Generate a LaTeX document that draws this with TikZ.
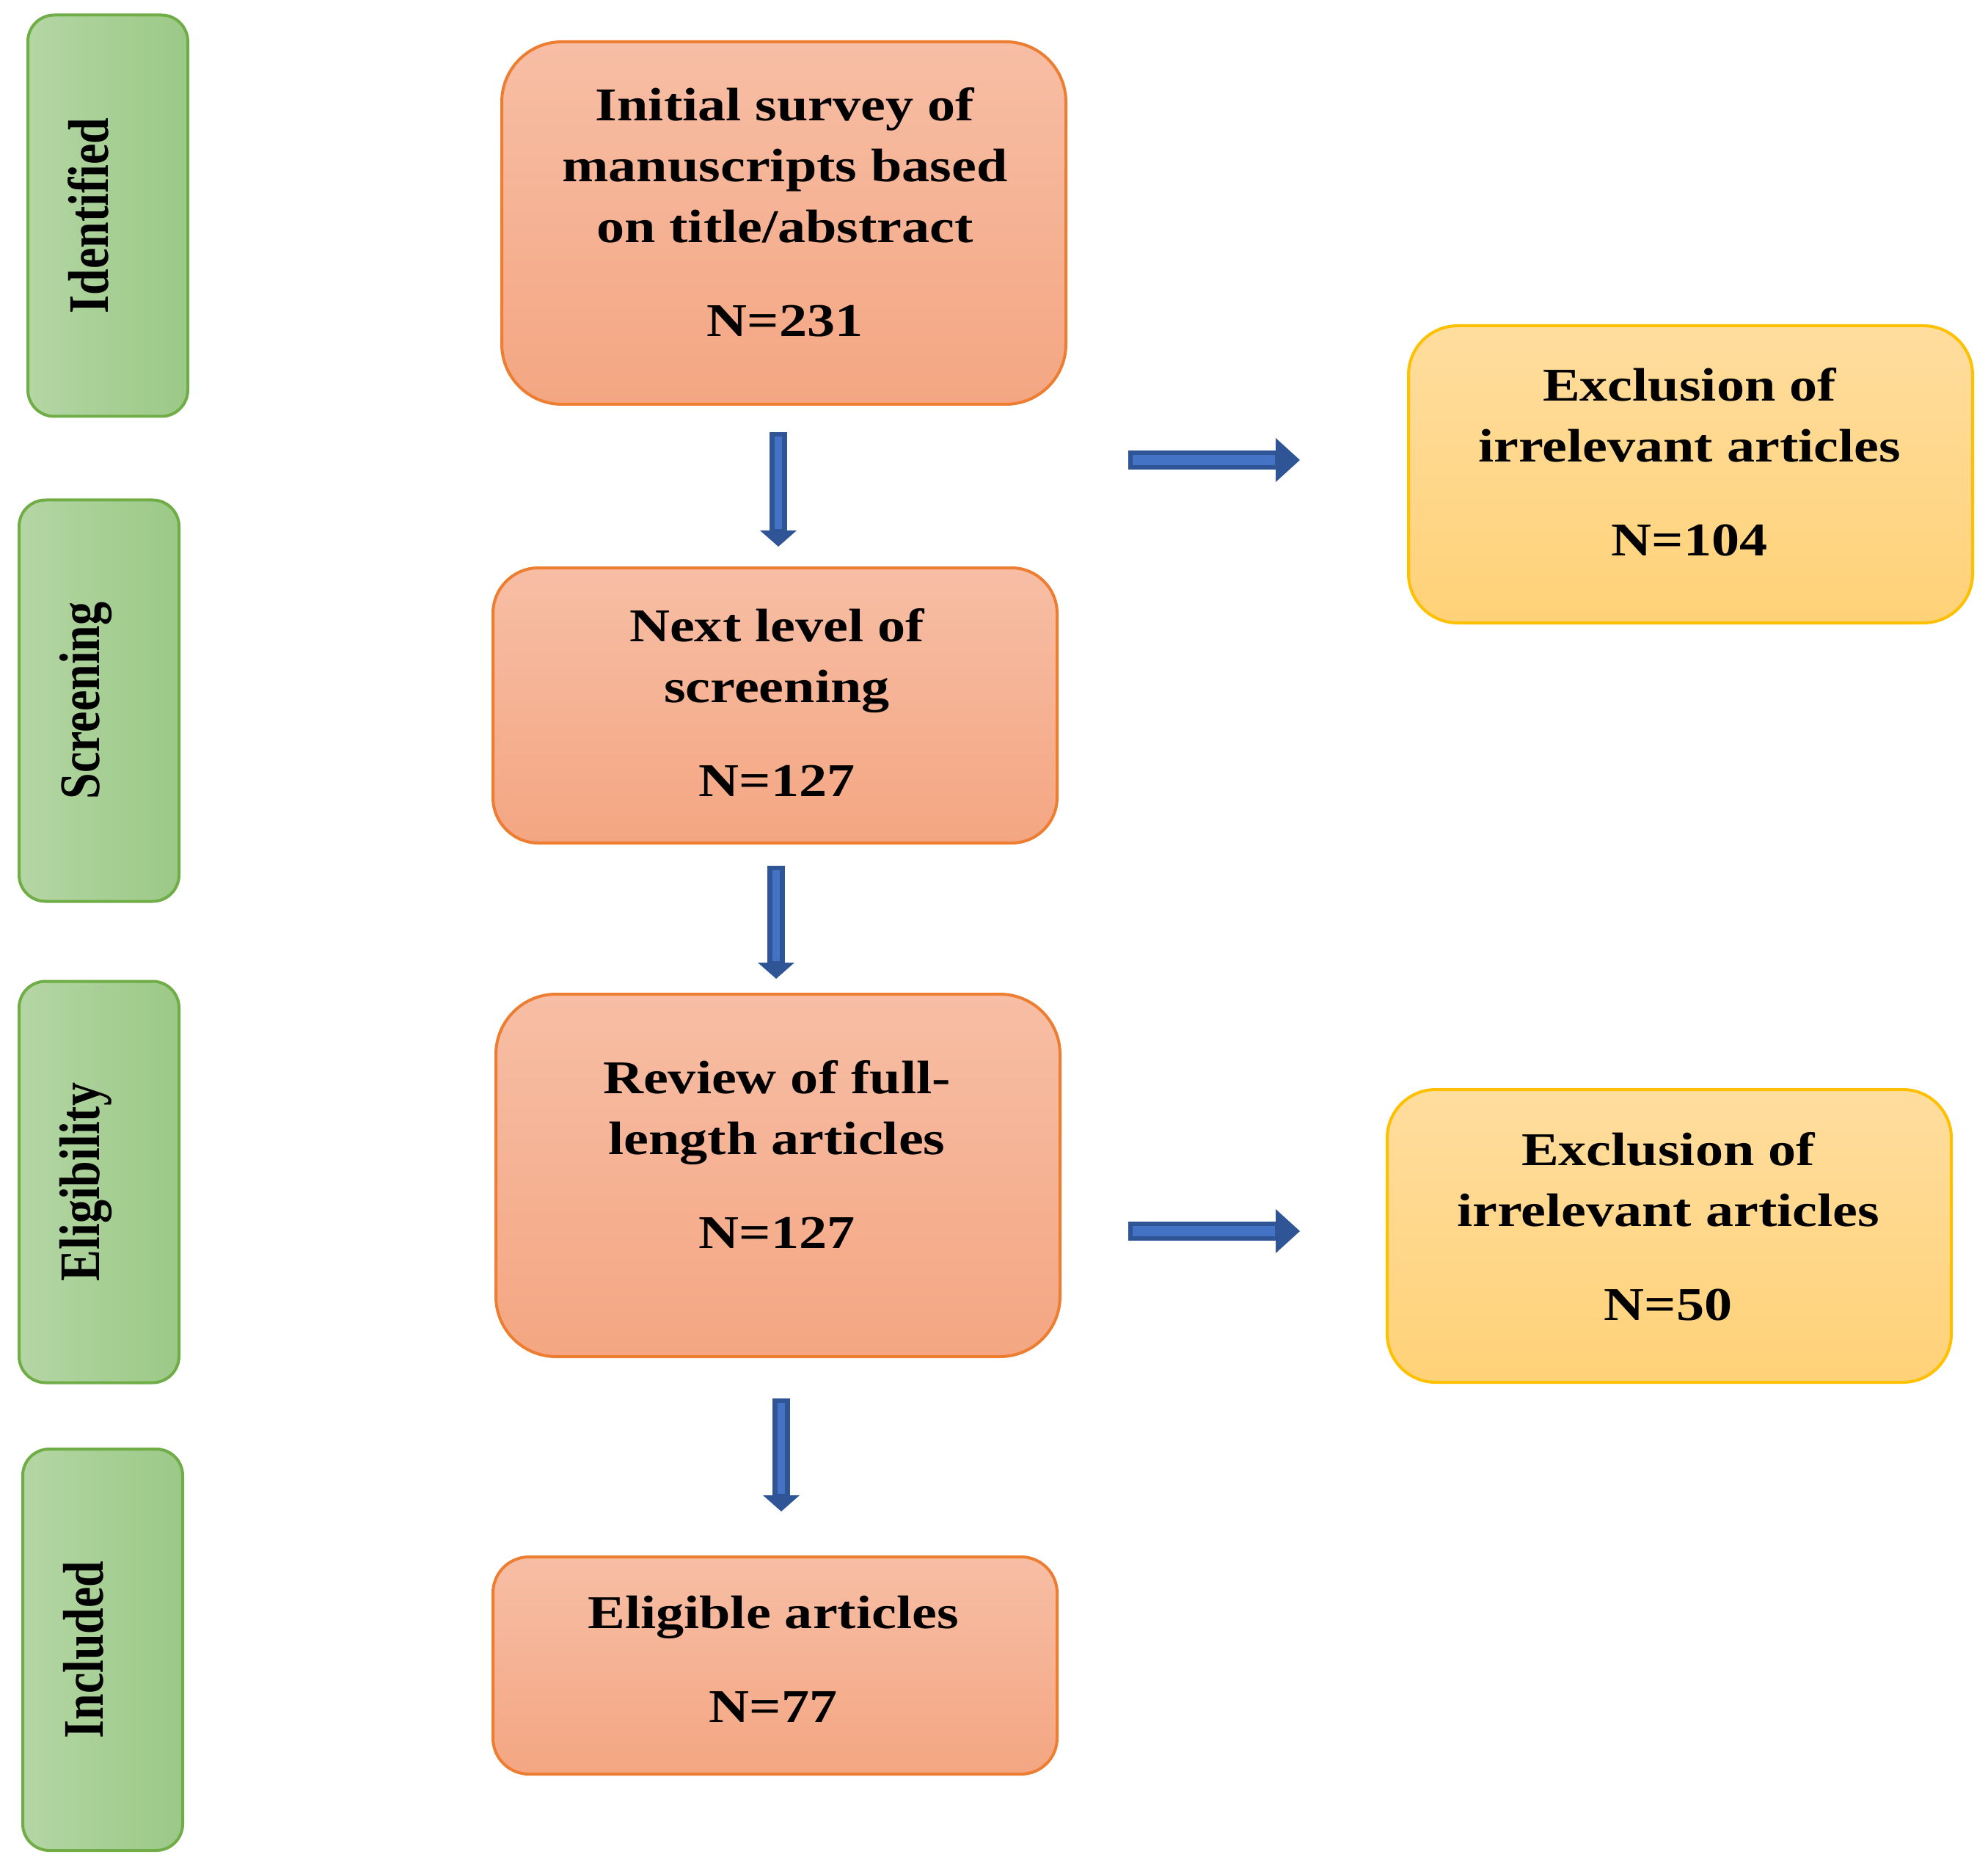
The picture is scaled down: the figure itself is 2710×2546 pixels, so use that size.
\documentclass[tikz,border=0pt]{standalone}
\usepackage{fontspec}
\setmainfont{Liberation Serif}
\newfontfamily\boxfont{Liberation Serif}[FakeStretch=1.19]
\newfontfamily\sidefont{Liberation Serif}
\usetikzlibrary{arrows.meta}
\definecolor{gline}{HTML}{70AD47}
\definecolor{gL}{HTML}{B4D6A4}
\definecolor{gR}{HTML}{9BC987}
\definecolor{oline}{HTML}{ED7D31}
\definecolor{oT}{HTML}{F7BEA5}
\definecolor{oB}{HTML}{F4A682}
\definecolor{yline}{HTML}{FFC000}
\definecolor{yT}{HTML}{FFDD9E}
\definecolor{yB}{HTML}{FFD278}
\definecolor{adark}{HTML}{2F5597}
\definecolor{alight}{HTML}{4472C4}
\newcommand{\tallside}[1]{\scalebox{1}[1.22]{#1}}
\tikzset{
  gbox/.style={rectangle, rounded corners=9pt, draw=gline, line width=1pt,
    left color=gL, right color=gR, minimum width=54.5pt, minimum height=136.75pt, inner sep=0pt},
  obox/.style={rectangle, draw=oline, line width=1pt, top color=oT, bottom color=oB,
    minimum width=192.25pt, inner sep=0pt},
  ybox/.style={rectangle, draw=yline, line width=1pt, top color=yT, bottom color=yB,
    minimum width=192.25pt, inner sep=0pt},
  btext/.style={align=center, inner sep=0pt,
    font={\boxfont\bfseries\fontsize{16pt}{20.75pt}\selectfont}},
  stext/.style={rotate=90, anchor=base, inner sep=0pt,
    font={\sidefont\bfseries\fontsize{16pt}{20pt}\selectfont}},
  darrow/.style={draw=adark, line width=6pt,
    -{Triangle[width=12.5pt,length=5.5pt,line width=0pt]}},
  dinner/.style={draw=alight, line width=2.5pt, shorten <=1.5pt, shorten >=6pt},
  rarrow/.style={draw=adark, line width=6.5pt,
    -{Triangle[width=15pt,length=8.25pt,line width=0pt]}},
  rinner/.style={draw=alight, line width=3.5pt, shorten <=1.5pt, shorten >=8.5pt}
}
\begin{document}
\begin{tikzpicture}[x=0.25pt,y=-0.25pt]
\useasboundingbox[fill=white] (0,0) rectangle (2710,2546);

% side labels
\node[gbox] (g1) at (147,294) {};
\node[gbox] (g2) at (135,955) {};
\node[gbox] (g3) at (135,1611) {};
\node[gbox] (g4) at (140,2248.5) {};
\node[stext] (l1) at (g1.center) {\tallside{Identified}};
\node[stext] (l2) at (g2.center) {\tallside{Screening}};
\node[stext] (l3) at (g3.center) {\tallside{Eligibility}};
\node[stext] (l4) at (g4.center) {\tallside{Included}};

% main boxes
\node[obox, minimum height=123.5pt, rounded corners=20.5pt] (b1) at (1068.5,304) {};
\node[obox, minimum height=93.75pt, rounded corners=15.5pt] (b2) at (1056.5,961.5) {};
\node[obox, minimum height=123.5pt, rounded corners=20.5pt] (b3) at (1060.5,1602) {};
\node[obox, minimum height=74pt, rounded corners=12.25pt] (b4) at (1056.5,2270) {};
\node[ybox, minimum height=101.25pt, rounded corners=16.75pt] (y1) at (2304.5,646.5) {};
\node[ybox, minimum height=99.75pt, rounded corners=16.5pt] (y2) at (2275.5,1684.5) {};

\node[btext] (t1) at (1070,289.5) {Initial survey of\\manuscripts based\\on title/abstract\\[11.25pt]N=231};
\node[btext] (t2) at (1059,957.5) {Next level of\\screening\\[11.25pt]N=127};
\node[btext] (t3) at (1059,1573.5) {Review of full-\\length articles\\[11.25pt]N=127};
\node[btext] (t4) at (1054,2261.5) {Eligible articles\\[11.25pt]N=77};
\node[btext] (ty1) at (2303,630) {Exclusion of\\irrelevant articles\\[11.25pt]N=104};
\node[btext] (ty2) at (2274,1671.5) {Exclusion of\\irrelevant articles\\[11.25pt]N=50};

% arrows
\coordinate (d1s) at (1061,589);  \coordinate (d1e) at (1061,745);
\coordinate (d2s) at (1058,1180); \coordinate (d2e) at (1058,1334);
\coordinate (d3s) at (1065,1906); \coordinate (d3e) at (1065,2060);
\coordinate (r1s) at (1538,627);  \coordinate (r1e) at (1772,627);
\coordinate (r2s) at (1538,1678); \coordinate (r2e) at (1772,1678);

\foreach \a in {d1,d2,d3}{
  \draw[darrow] (\a s) -- (\a e);
  \draw[dinner] (\a s) -- (\a e);
}
\foreach \a in {r1,r2}{
  \draw[rarrow] (\a s) -- (\a e);
  \draw[rinner] (\a s) -- (\a e);
}
\end{tikzpicture}
\end{document}
